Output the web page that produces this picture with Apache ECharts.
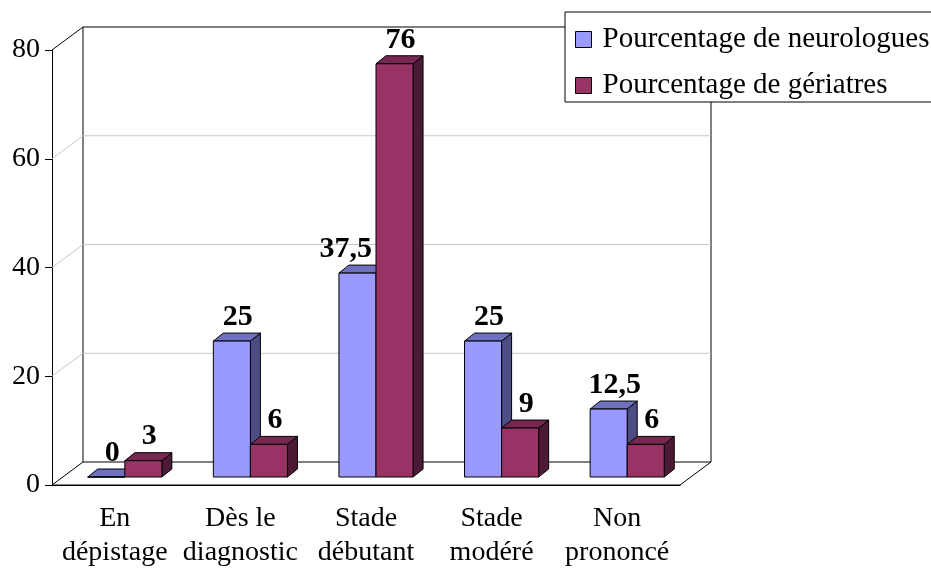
<!DOCTYPE html>
<html>
<head>
<meta charset="UTF-8">
<script src="https://cdn.jsdelivr.net/npm/echarts@6/dist/echarts.min.js"></script>
<style>
  html, body { margin: 0; padding: 0; background: #fff; }
  #main { width: 931px; height: 570px; }
</style>
</head>
<body>
<div id="main"></div>
<script>
// chart values
var categories = ['En\ndépistage', 'Dès le\ndiagnostic', 'Stade\ndébutant', 'Stade\nmodéré', 'Non\nprononcé'];
var neurologues = [0, 25, 37.5, 25, 12.5];
var geriatres = [3, 6, 76, 9, 6];
var yTicks = [0, 20, 40, 60, 80];

var FONT = '"Liberation Serif", "Times New Roman", serif';
var LABEL_SIZE = 30;
// depth of the pseudo-3D box (walls) and of the bars
var DX = 31, DY = -23;
var BDX = 10, BDY = -8;

function fmt(v) {
  return String(v).replace('.', ',');
}

// back wall, floor and gridlines
function renderFrame(params, api) {
  var cs = params.coordSys;
  var x0 = cs.x, x1 = cs.x + cs.width;
  var v = api.value(1);
  var y = api.coord([0, v])[1];
  var yTop = api.coord([0, yTicks[yTicks.length - 1]])[1];
  var black = { stroke: '#000', lineWidth: 1, fill: null };
  var kids = [];
  if (v === yTicks[0]) {
    kids.push({ type: 'polygon', shape: { points: [[x0, y], [x1, y], [x1 + DX, y + DY], [x0 + DX, y + DY]] },
      style: { fill: '#fff', stroke: '#000', lineWidth: 1 } });
    kids.push({ type: 'line', shape: { x1: x0 + DX, y1: y + DY, x2: x0 + DX, y2: yTop + DY }, style: black });
    kids.push({ type: 'line', shape: { x1: x1 + DX, y1: y + DY, x2: x1 + DX, y2: yTop + DY }, style: black });
  } else if (v === yTicks[yTicks.length - 1]) {
    kids.push({ type: 'polyline', shape: { points: [[x0, y], [x0 + DX, y + DY], [x1 + DX, y + DY]] }, style: black });
  } else {
    kids.push({ type: 'polyline', shape: { points: [[x0, y], [x0 + DX, y + DY], [x1 + DX, y + DY]] },
      style: { stroke: '#c8c8c8', lineWidth: 1, fill: null } });
  }
  return { type: 'group', children: kids };
}

// bar geometry shared by the bars and their labels
function barBox(side, api) {
  var i = api.value(0), v = api.value(1);
  var base = api.coord([i, 0]);
  var top = api.coord([i, v]);
  var bw = api.size([1, 0])[0] * 0.295;
  var c = base[0] + 10;
  var xl = side === 0 ? c - bw : c;
  return { v: v, i: i, xl: xl, xr: xl + bw, bw: bw, yb: base[1] - 8, yt: top[1] - 8 };
}

function barRenderer(side, front, topC, sideC) {
  return function (params, api) {
    var b = barBox(side, api);
    var edge = { stroke: '#000', lineWidth: 1 };
    return {
      type: 'group',
      children: [
        { type: 'polygon', shape: { points: [[b.xr, b.yb], [b.xr + BDX, b.yb + BDY], [b.xr + BDX, b.yt + BDY], [b.xr, b.yt]] },
          style: Object.assign({ fill: sideC }, edge) },
        { type: 'polygon', shape: { points: [[b.xl, b.yt], [b.xr, b.yt], [b.xr + BDX, b.yt + BDY], [b.xl + BDX, b.yt + BDY]] },
          style: Object.assign({ fill: topC }, edge) },
        { type: 'rect', shape: { x: b.xl, y: b.yt, width: b.bw, height: b.yb - b.yt },
          style: Object.assign({ fill: front }, edge) }
      ]
    };
  };
}

// value labels; a left label moves left when the neighbouring bar rises past it
function labelRenderer(side, other) {
  return function (params, api) {
    var b = barBox(side, api);
    var y = b.yt + BDY - 1;
    var x = b.xl + b.bw / 2 + BDX / 2 + 1;
    var align = 'center';
    if (side === 0) {
      var otherTop = api.coord([b.i, other[b.i]])[1] - 8 + BDY;
      if (otherTop < y - LABEL_SIZE) {
        x = b.xr - 4;
        align = 'right';
      }
    }
    return {
      type: 'text', x: x, y: y,
      style: { text: fmt(b.v), fill: '#000', font: 'bold ' + LABEL_SIZE + 'px ' + FONT, align: align, verticalAlign: 'bottom' }
    };
  };
}

var myChart = echarts.init(document.getElementById('main'));
var option = {
  backgroundColor: '#fff',
  animation: false,
  grid: { left: 52, right: 251, top: 50, bottom: 84 },
  legend: {
    data: ['Pourcentage de neurologues', 'Pourcentage de gériatres'],
    orient: 'vertical',
    left: 565,
    top: 12,
    padding: [13, 4, 2, 10],
    itemWidth: 16,
    itemHeight: 16,
    itemGap: 17,
    icon: 'rect',
    backgroundColor: '#fff',
    borderColor: '#000',
    borderWidth: 1,
    borderRadius: 0,
    itemStyle: { borderColor: '#000', borderWidth: 1 },
    textStyle: { fontFamily: FONT, fontSize: 29, color: '#000', padding: [0, 0, 0, 6] }
  },
  xAxis: {
    type: 'category',
    data: categories,
    axisLine: { lineStyle: { color: '#000' } },
    axisTick: { length: 7, lineStyle: { color: '#000' } },
    axisLabel: { color: '#000', fontFamily: FONT, fontSize: 28, lineHeight: 34, margin: 17, interval: 0 }
  },
  yAxis: {
    type: 'value',
    min: 0,
    max: 80,
    interval: 20,
    axisLine: { show: true, lineStyle: { color: '#000' } },
    axisTick: { show: true, length: 7, lineStyle: { color: '#000' } },
    axisLabel: { color: '#000', fontFamily: FONT, fontSize: 28, margin: 12 },
    splitLine: { show: false }
  },
  series: [
    {
      name: 'frame',
      type: 'custom',
      silent: true,
      z: 1,
      renderItem: renderFrame,
      data: yTicks.map(function (v) { return [0, v]; })
    },
    {
      name: 'Pourcentage de neurologues',
      type: 'custom',
      z: 2,
      itemStyle: { color: '#9999FF' },
      renderItem: barRenderer(0, '#9999FF', '#7070C0', '#4D4D85'),
      data: neurologues.map(function (v, i) { return [i, v]; })
    },
    {
      name: 'Pourcentage de gériatres',
      type: 'custom',
      z: 3,
      itemStyle: { color: '#993366' },
      renderItem: barRenderer(1, '#993366', '#762850', '#4D1A35'),
      data: geriatres.map(function (v, i) { return [i, v]; })
    },
    {
      name: 'labels neurologues',
      type: 'custom',
      silent: true,
      z: 4,
      renderItem: labelRenderer(0, geriatres),
      data: neurologues.map(function (v, i) { return [i, v]; })
    },
    {
      name: 'labels geriatres',
      type: 'custom',
      silent: true,
      z: 4,
      renderItem: labelRenderer(1, neurologues),
      data: geriatres.map(function (v, i) { return [i, v]; })
    }
  ]
};
myChart.setOption(option);
</script>
</body>
</html>
